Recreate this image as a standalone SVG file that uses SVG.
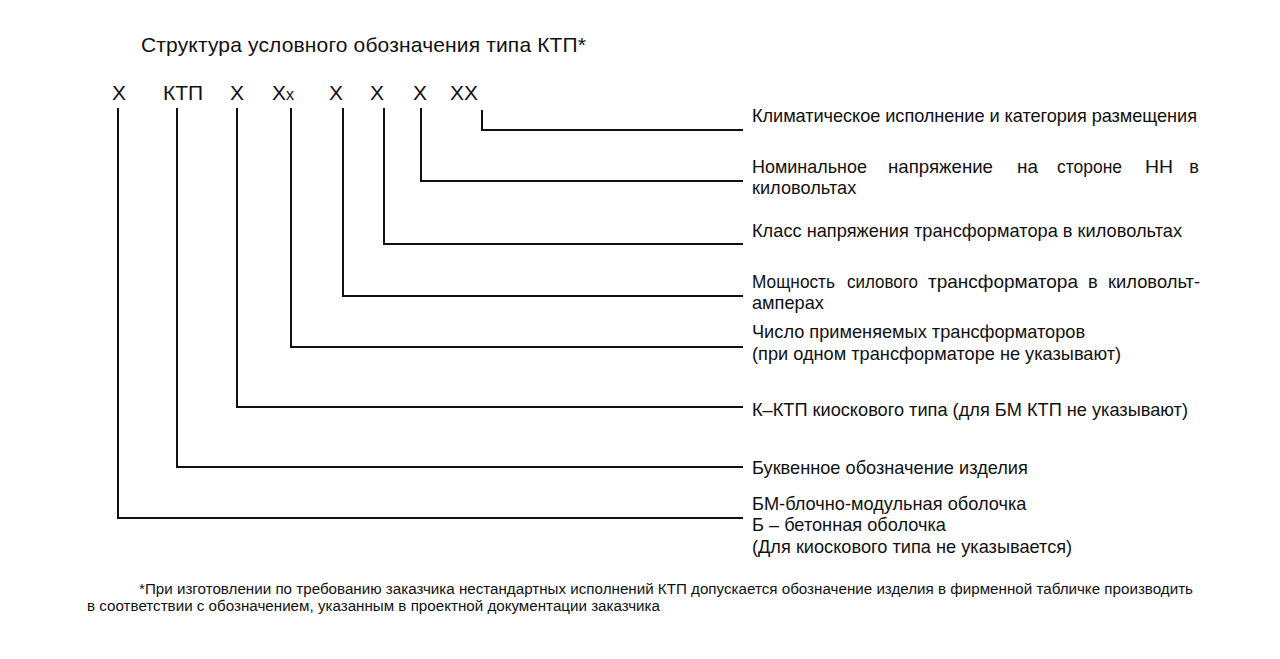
<svg xmlns="http://www.w3.org/2000/svg" width="1280" height="659" viewBox="0 0 1280 659">
<style>
text{font-family:"Liberation Sans",Arial,sans-serif;fill:#111}
.code{font-size:21px}
.lbl{font-size:18.2px}
.title{font-size:21px}
.note{font-size:14px}
.ln{fill:none;stroke:#111;stroke-width:2}
</style>
<rect width="1280" height="659" fill="#fff"/>
<text class="title" x="141" y="52" textLength="445">Структура условного обозначения типа КТП*</text>
<g id="codes" class="code">
<text x="119" y="100" text-anchor="middle">X</text>
<text x="183" y="100" text-anchor="middle">КТП</text>
<text x="237" y="100" text-anchor="middle">X</text>
<text x="272" y="100">X<tspan font-size="16">x</tspan></text>
<text x="336" y="100" text-anchor="middle">X</text>
<text x="377" y="100" text-anchor="middle">X</text>
<text x="420" y="100" text-anchor="middle">X</text>
<text x="450" y="100">XX</text>
</g>
<g id="connectors">
<polyline class="ln" points="482,110 482,130 743,130"/>
<polyline class="ln" points="421,108 421,181 743,181"/>
<polyline class="ln" points="384,108 384,244 743,244"/>
<polyline class="ln" points="343,108 343,296 743,296"/>
<polyline class="ln" points="291,108 291,347 743,347"/>
<polyline class="ln" points="237,108 237,407 743,407"/>
<polyline class="ln" points="177,108 177,467 743,467"/>
<polyline class="ln" points="118,108 118,518 743,518"/>
</g>
<g id="n1" class="lbl"><text x="752" y="122" textLength="445">Климатическое исполнение и категория размещения</text></g>
<g id="n2" class="lbl">
<text x="752" y="173" textLength="115" lengthAdjust="spacingAndGlyphs">Номинальное</text>
<text x="888" y="173" textLength="105" lengthAdjust="spacingAndGlyphs">напряжение</text>
<text x="1017" y="173" textLength="21" lengthAdjust="spacingAndGlyphs">на</text>
<text x="1057" y="173" textLength="65" lengthAdjust="spacingAndGlyphs">стороне</text>
<text x="1145" y="173" textLength="28" lengthAdjust="spacingAndGlyphs">НН</text>
<text x="1199" y="173" text-anchor="end">в</text>
<text x="752" y="194">киловольтах</text>
</g>
<g id="n3" class="lbl"><text x="752" y="237" textLength="430">Класс напряжения трансформатора в киловольтах</text></g>
<g id="n4" class="lbl">
<text x="752" y="288" textLength="83" lengthAdjust="spacingAndGlyphs">Мощность</text>
<text x="847" y="288" textLength="71" lengthAdjust="spacingAndGlyphs">силового</text>
<text x="928" y="288" textLength="150" lengthAdjust="spacingAndGlyphs">трансформатора</text>
<text x="1088" y="288">в</text>
<text x="1108" y="288" textLength="92" lengthAdjust="spacingAndGlyphs">киловольт-</text>
<text x="752" y="309">амперах</text>
</g>
<g id="n5" class="lbl">
<text x="752" y="338">Число применяемых трансформаторов</text>
<text x="752" y="360">(при одном трансформаторе не указывают)</text>
</g>
<g id="n6" class="lbl"><text x="752" y="416">К–КТП киоскового типа (для БМ КТП не указывают)</text></g>
<g id="n7" class="lbl"><text x="752" y="474">Буквенное обозначение изделия</text></g>
<g id="n8" class="lbl">
<text x="752" y="510">БМ-блочно-модульная оболочка</text>
<text x="752" y="531">Б – бетонная оболочка</text>
<text x="752" y="553">(Для киоскового типа не указывается)</text>
</g>
<g id="note" class="note">
<text x="139" y="594" textLength="1054" lengthAdjust="spacingAndGlyphs">*При изготовлении по требованию заказчика нестандартных исполнений КТП допускается обозначение изделия в фирменной табличке производить</text>
<text x="87" y="611" textLength="573" lengthAdjust="spacingAndGlyphs">в соответствии с обозначением, указанным в проектной документации заказчика</text>
</g>
</svg>
